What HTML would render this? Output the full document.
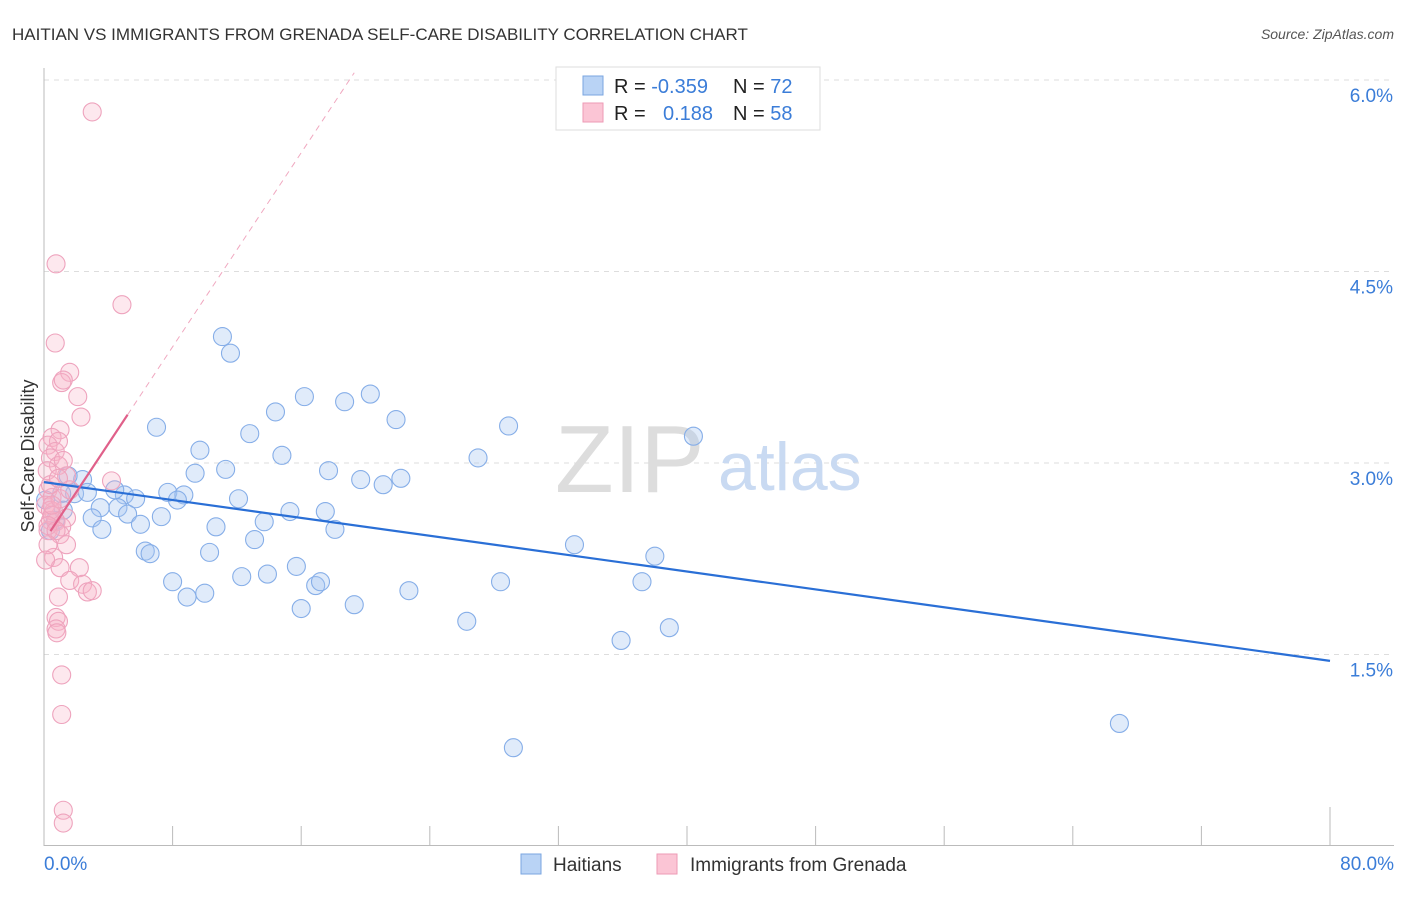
<!DOCTYPE html>
<html><head><meta charset="utf-8"><style>
body{margin:0;background:#fff;font-family:"Liberation Sans",sans-serif}
svg text{font-family:"Liberation Sans",sans-serif}
</style></head><body>
<svg width="1406" height="892" viewBox="0 0 1406 892">
<text x="12" y="40" font-size="17" fill="#333">HAITIAN VS IMMIGRANTS FROM GRENADA SELF-CARE DISABILITY CORRELATION CHART</text>
<text x="1394" y="39" font-size="14" fill="#555" font-style="italic" text-anchor="end">Source: ZipAtlas.com</text>
<g id="grid"></g>
<g id="axes"></g>
<text x="555" y="492" font-size="96" fill="#ddd" font-family="Liberation Serif">ZIP</text>
<text x="718" y="490" font-size="68" fill="#c9daf2">atlas</text>
<g id="pts"></g>
<g id="lines"></g>
<text transform="translate(34,456) rotate(-90)" font-size="18" fill="#333" text-anchor="middle">Self-Care Disability</text>
<text x="44" y="870" font-size="19" fill="#3b7dd8">0.0%</text>
<text x="1394" y="870" font-size="19" fill="#3b7dd8" text-anchor="end">80.0%</text>
<g>
<rect x="556" y="67" width="264" height="63" fill="#fff" stroke="#ddd"/>
<rect x="583" y="76" width="20" height="19" fill="#b9d3f5" stroke="#7aa6e0"/>
<rect x="583" y="103" width="20" height="19" fill="#fbc5d5" stroke="#ee9ab5"/>
<text x="614" y="93" font-size="20" fill="#222">R = <tspan fill="#3b7dd8">-0.359</tspan></text>
<text x="733" y="93" font-size="20" fill="#222">N = <tspan fill="#3b7dd8">72</tspan></text>
<text x="614" y="120" font-size="20" fill="#222">R = </text>
<text x="663" y="120" font-size="20" fill="#3b7dd8">0.188</text>
<text x="733" y="120" font-size="20" fill="#222">N = <tspan fill="#3b7dd8">58</tspan></text>
</g>
<g>
<rect x="521" y="854" width="20" height="20" fill="#b9d3f5" stroke="#7aa6e0"/>
<text x="553" y="871" font-size="19" fill="#333">Haitians</text>
<rect x="657" y="854" width="20" height="20" fill="#fbc5d5" stroke="#ee9ab5"/>
<text x="690" y="871" font-size="19" fill="#333">Immigrants from Grenada</text>
</g>
</svg>
<script>
const yTicks=[1.5,3.0,4.5,6.0];
const yTickLabels=["1.5%","3.0%","4.5%","6.0%"];
const xTicks=[8,16,24,32,40,48,56,64,72,80];
const haitianX=[11.1,11.6,7.0,9.7,12.8,14.4,16.2,18.7,20.3,21.9,28.9,40.4,14.8,9.4,11.3,17.7,19.7,21.1,22.2,27.0,7.7,8.7,8.3,12.1,5.0,5.7,4.4,2.4,1.5,1.9,2.7,1.1,1.2,3.5,4.6,5.2,3.0,6.0,7.3,10.7,13.7,15.3,17.5,18.1,3.6,13.1,6.3,6.6,10.3,33.0,38.0,12.3,13.9,15.7,8.0,16.9,17.2,8.9,10.0,16.0,19.3,22.7,28.4,37.2,26.3,38.9,35.9,66.9,29.2,0.4,0.1,0.7];
const haitianY=[3.99,3.86,3.28,3.10,3.23,3.40,3.52,3.48,3.54,3.34,3.29,3.21,3.06,2.92,2.95,2.94,2.87,2.83,2.88,3.04,2.77,2.75,2.71,2.72,2.75,2.72,2.79,2.87,2.90,2.76,2.77,2.76,2.63,2.65,2.65,2.60,2.57,2.52,2.58,2.50,2.54,2.62,2.62,2.48,2.48,2.40,2.31,2.29,2.30,2.36,2.27,2.11,2.13,2.19,2.07,2.04,2.07,1.95,1.98,1.86,1.89,2.00,2.07,2.07,1.76,1.71,1.61,0.96,0.77,2.47,2.71,2.55];
const grenadaX=[3.0,0.75,4.85,0.7,1.6,1.1,1.2,2.1,2.3,1.0,0.5,0.9,0.25,0.7,0.4,0.9,0.2,1.4,4.2,0.25,0.5,0.1,0.6,1.4,0.4,0.75,1.1,0.25,1.0,0.6,1.0,2.2,1.6,2.4,2.7,3.0,0.9,0.75,0.9,0.75,0.8,1.1,1.1,1.2,1.2,0.4,0.5,0.25,0.75,1.0,0.4,1.2,0.25,1.4,0.9,0.5,1.6,0.1];
const grenadaY=[5.75,4.56,4.24,3.94,3.71,3.63,3.65,3.52,3.36,3.26,3.20,3.17,3.14,3.09,3.04,2.98,2.94,2.90,2.86,2.79,2.73,2.67,2.62,2.57,2.55,2.54,2.50,2.47,2.44,2.26,2.18,2.18,2.08,2.05,1.99,2.00,1.95,1.79,1.76,1.70,1.67,1.34,1.03,0.28,0.18,2.63,2.59,2.51,2.47,2.72,2.83,3.02,2.36,2.36,2.88,2.67,2.79,2.24];
const haitianTrend=[2.85,-0.0175];
const grenadaTrend=[2.39,0.19];
const NS="http://www.w3.org/2000/svg";
const X=v=>44+v/80*1286, Y=v=>846-v/6*766;
function mk(tag,at,parent){const e=document.createElementNS(NS,tag);for(const k in at)e.setAttribute(k,at[k]);parent.appendChild(e);return e;}
const grid=document.getElementById('grid'),axes=document.getElementById('axes');
yTicks.forEach((t,i)=>{
 const l=mk('line',{x1:44,x2:1394,y1:Y(t),y2:Y(t),stroke:'#ddd','stroke-dasharray':'5,5'},grid);
 
 
 const tx=mk('text',{x:1393,y:Y(t)+22,'font-size':19,fill:'#3b7dd8','text-anchor':'end'},grid);
 tx.textContent=yTickLabels[i];
 
 
});
const la=mk('line',{x1:44,x2:44,y1:68,y2:846,stroke:'#bbb'},axes);


const lb=mk('line',{x1:44,x2:1394,y1:845.5,y2:845.5,stroke:'#bbb'},axes);


xTicks.forEach(t=>{
 const l=mk('line',{x1:X(t),x2:X(t),y1:t==80?807:826,y2:846,stroke:'#bbb'},axes);
 
 
});
const pts=document.getElementById('pts');
haitianX.forEach((x,i)=>{
 const c=mk('circle',{cx:X(x),cy:Y(haitianY[i]),r:9,fill:'rgba(165,198,240,0.35)',stroke:'#86aee8','stroke-width':1.1},pts);
 
 
});
grenadaX.forEach((x,i)=>{
 const c=mk('circle',{cx:X(x),cy:Y(grenadaY[i]),r:9,fill:'rgba(247,178,200,0.3)',stroke:'#eea3bd','stroke-width':1.1},pts);
 
 
});
const lines=document.getElementById('lines');
const hb=mk('line',{x1:X(0),y1:Y(haitianTrend[0]),x2:X(80),y2:Y(haitianTrend[0]+80*haitianTrend[1]),stroke:'#2a6fd6','stroke-width':2.2},lines);


const gd=mk('line',{x1:X(5.2),y1:Y(grenadaTrend[0]+5.2*grenadaTrend[1]),x2:X(19.3),y2:Y(grenadaTrend[0]+19.3*grenadaTrend[1]),stroke:'#f0a8c0','stroke-width':1,'stroke-dasharray':'6,5'},lines);


const gs=mk('line',{x1:X(0.4),y1:Y(grenadaTrend[0]+0.4*grenadaTrend[1]),x2:X(5.2),y2:Y(grenadaTrend[0]+5.2*grenadaTrend[1]),stroke:'#e0608a','stroke-width':2.2},lines);


</script>
</body></html>
